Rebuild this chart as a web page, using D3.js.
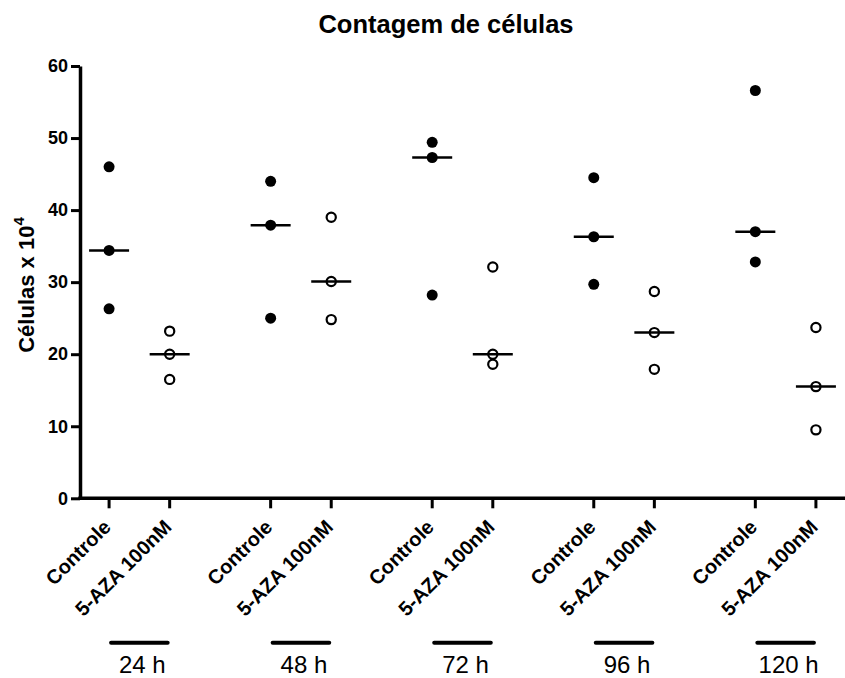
<!DOCTYPE html>
<html>
<head>
<meta charset="utf-8">
<script src="https://cdn.jsdelivr.net/npm/d3@7"></script>
<style>
  html, body { margin: 0; padding: 0; background: #fff; }
  svg { display: block; font-family: "Liberation Sans", Arial, sans-serif; }
</style>
</head>
<body>
<svg id="chart" width="845" height="678"></svg>
<script>
// Time points and treatments
const timePoints = ["24 h", "48 h", "72 h", "96 h", "120 h"];
const treatments = ["Controle", "5-AZA 100nM"];

// Cell counts (x 10^4), three replicates per time point
const controleValues = [
  [46.0, 34.4, 26.3],
  [44.0, 37.9, 25.0],
  [49.4, 47.3, 28.2],
  [44.5, 36.3, 29.7],
  [56.6, 37.0, 32.8]
];
const azaValues = [
  [23.2, 20.0, 16.5],
  [39.0, 30.1, 24.8],
  [32.1, 20.0, 18.6],
  [28.7, 23.0, 17.9],
  [23.7, 15.5, 9.5]
];
const yTicks = [0, 10, 20, 30, 40, 50, 60];

const seriesValues = { "Controle": controleValues, "5-AZA 100nM": azaValues };

const svg = d3.select("#chart");
const plotLeft = 80, plotRight = 845, plotTop = 66, plotBottom = 498.3;

const y = d3.scaleLinear().domain([0, 60]).range([plotBottom, plotTop]);
const xGroup = d3.scaleBand().domain(timePoints).range([plotLeft, plotRight])
  .paddingInner(0.625).paddingOuter(0.18);
const xInner = d3.scalePoint().domain(treatments).range([0, xGroup.bandwidth()]);
const xPos = (t, tr) => xGroup(t) + xInner(tr);

// Title
svg.append("text")
  .attr("x", 446).attr("y", 33)
  .attr("text-anchor", "middle")
  .attr("font-size", 25.5).attr("font-weight", "bold")
  .text("Contagem de células");

// Y axis
const yAxis = svg.append("g")
  .attr("transform", `translate(${plotLeft},0)`)
  .call(d3.axisLeft(y).tickValues(yTicks).tickSize(9).tickPadding(3).tickSizeOuter(0));
yAxis.select(".domain").attr("stroke-width", 3.5).attr("stroke", "#000");
yAxis.selectAll(".tick line").attr("stroke-width", 3).attr("stroke", "#000");
yAxis.selectAll(".tick text")
  .attr("font-size", 18).attr("font-weight", "bold").attr("fill", "#000")
  .attr("font-family", "'Liberation Sans', Arial, sans-serif");

// Y axis title
const yTitle = svg.append("text")
  .attr("transform", "translate(34,285) rotate(-90)")
  .attr("text-anchor", "middle")
  .attr("font-size", 22).attr("font-weight", "bold");
yTitle.append("tspan").text("Células x 10");
yTitle.append("tspan").attr("dy", -10).attr("font-size", 15).text("4");

// X axis line
const allCats = timePoints.flatMap(t => treatments.map(tr => ({ t, tr })));
svg.append("line")
  .attr("x1", plotLeft - 1.75).attr("x2", plotRight)
  .attr("y1", plotBottom).attr("y2", plotBottom)
  .attr("stroke", "#000").attr("stroke-width", 3.5);

// X ticks and category labels
const xt = svg.append("g");
xt.selectAll("line").data(allCats).join("line")
  .attr("x1", d => xPos(d.t, d.tr)).attr("x2", d => xPos(d.t, d.tr))
  .attr("y1", plotBottom).attr("y2", plotBottom + 10)
  .attr("stroke", "#000").attr("stroke-width", 3);
xt.selectAll("text").data(allCats).join("text")
  .attr("transform", d => `translate(${xPos(d.t, d.tr) + 3},${plotBottom + 30}) rotate(-45)`)
  .attr("text-anchor", "end")
  .attr("font-size", 20).attr("font-weight", "bold")
  .text(d => d.tr);

// Group bars and time labels
const groupsG = svg.append("g");
groupsG.selectAll("line").data(timePoints).join("line")
  .attr("x1", d => xPos(d, treatments[0]) + 2)
  .attr("x2", d => xPos(d, treatments[1]) - 2)
  .attr("y1", 642.7).attr("y2", 642.7)
  .attr("stroke", "#000").attr("stroke-width", 4).attr("stroke-linecap", "round");
groupsG.selectAll("text").data(timePoints).join("text")
  .attr("x", d => (xPos(d, treatments[0]) + xPos(d, treatments[1])) / 2 + 3)
  .attr("y", 673)
  .attr("text-anchor", "middle")
  .attr("font-size", 24)
  .text(d => d);

// Points and median lines
const plot = svg.append("g");
treatments.forEach(tr => {
  const filled = tr === "Controle";
  timePoints.forEach((t, i) => {
    const vals = seriesValues[tr][i];
    const cx = xPos(t, tr);
    const med = d3.median(vals);
    plot.append("line")
      .attr("x1", cx - 20).attr("x2", cx + 20)
      .attr("y1", y(med)).attr("y2", y(med))
      .attr("stroke", "#000").attr("stroke-width", 2.5);
    plot.selectAll(null).data(vals).join("circle")
      .attr("cx", cx).attr("cy", v => y(v))
      .attr("r", filled ? 5.5 : 4.6)
      .attr("fill", filled ? "#000" : "none")
      .attr("stroke", "#000")
      .attr("stroke-width", filled ? 0 : 2.2);
  });
});
</script>
</body>
</html>
